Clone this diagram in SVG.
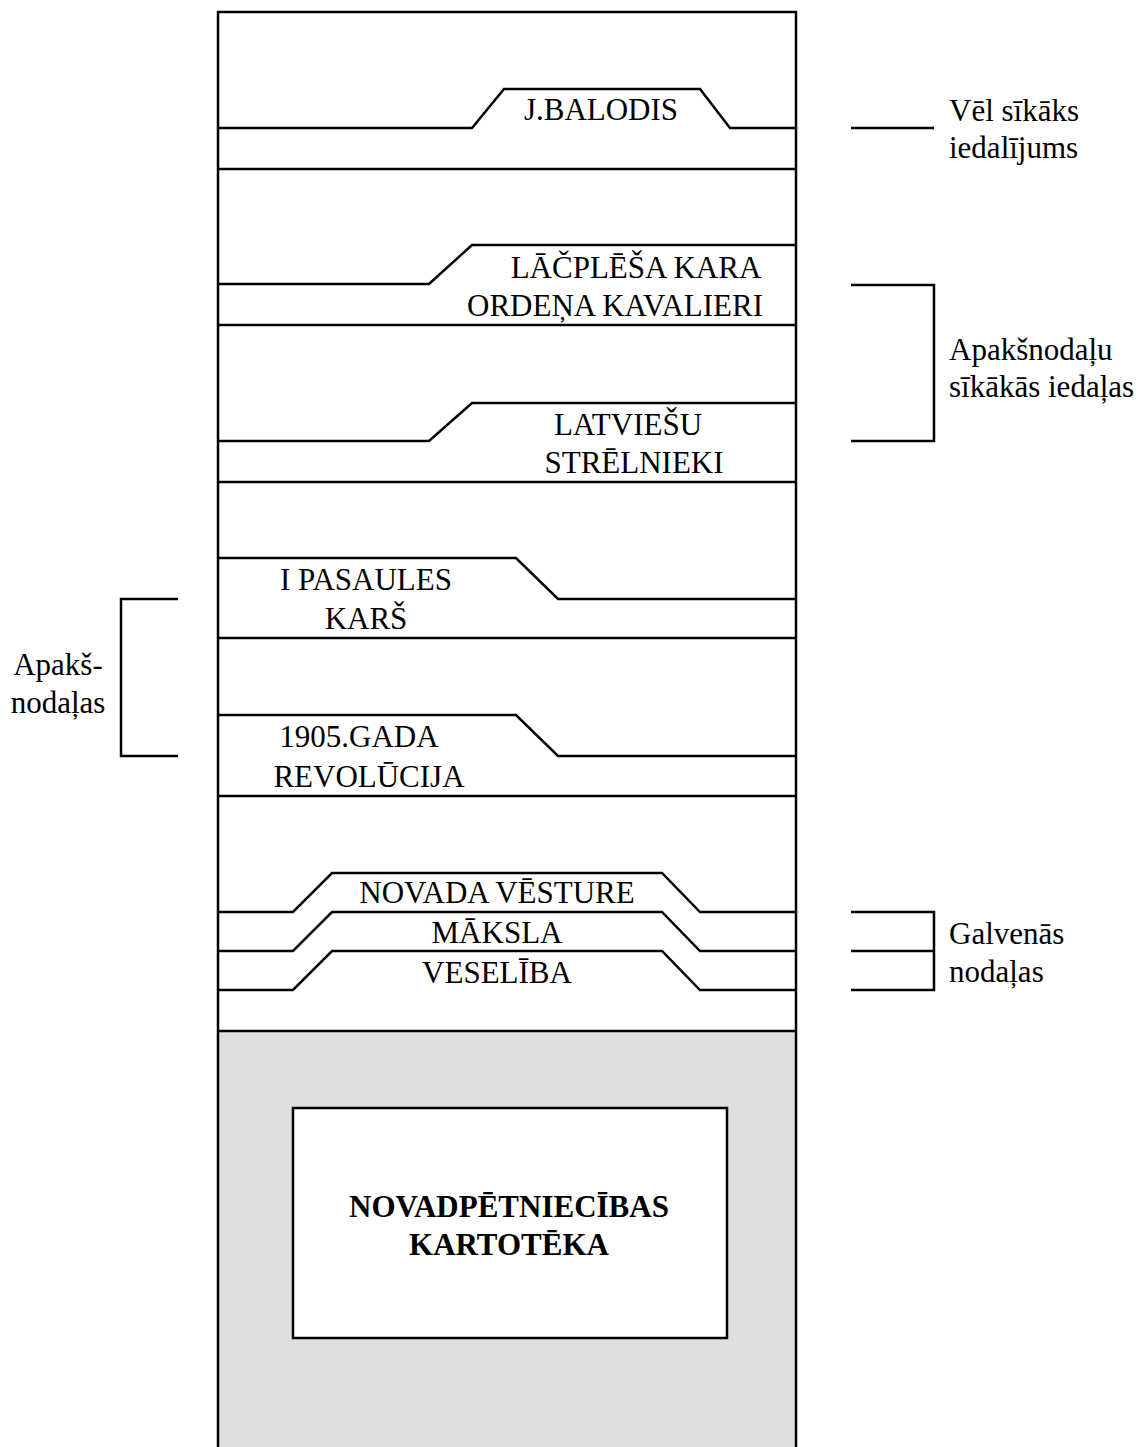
<svg xmlns="http://www.w3.org/2000/svg" width="1144" height="1447" viewBox="0 0 1144 1447">
<style>
.ln{fill:none;stroke:#000;stroke-width:2.5}
.t{font-family:"Liberation Serif","Times New Roman",serif;font-size:31px;fill:#000}
.c{text-anchor:middle}
.b{font-weight:bold}
</style>
<rect x="0" y="0" width="1144" height="1447" fill="#fff"/>
<g id="cabinet">
<rect x="218" y="12" width="578" height="1450" fill="#fff"/>
<rect x="218" y="1031" width="578" height="420" fill="#dedede"/>
<path class="ln" d="M218,1450 V12 H796 V1450"/>
</g>
<g id="connectors">
<path class="ln" d="M218,169 H796 M218,325 H796 M218,482 H796 M218,638 H796 M218,796 H796 M218,1031 H796"/>
<path class="ln" d="M851,128 H934"/>
<path class="ln" d="M851,285 H934 V441 H851"/>
<path class="ln" d="M851,912 H934 V990 H851 M851,951 H934"/>
<path class="ln" d="M178,599 H121 V756 H178"/>
</g>
<g id="tab-balodis">
<path class="ln" d="M218,128 H472 L504,89 H700 L730,128 H796"/>
<text class="t c" x="601" y="120">J.BALODIS</text>
</g>
<g id="tab-lacplesa">
<path class="ln" d="M218,284 H429 L472,245 H796"/>
<text class="t c" x="636" y="278">LĀČPLĒŠA KARA</text>
<text class="t c" x="615" y="316">ORDEŅA KAVALIERI</text>
</g>
<g id="tab-strelnieki">
<path class="ln" d="M218,441 H429 L472,403 H796"/>
<text class="t c" x="628" y="435">LATVIEŠU</text>
<text class="t c" x="634" y="473">STRĒLNIEKI</text>
</g>
<g id="tab-pasaules">
<path class="ln" d="M218,558 H516 L558,599 H796"/>
<text class="t c" x="366" y="590">I PASAULES</text>
<text class="t c" x="366" y="629">KARŠ</text>
</g>
<g id="tab-1905">
<path class="ln" d="M218,715 H516 L558,756 H796"/>
<text class="t c" x="359" y="747">1905.GADA</text>
<text class="t c" x="369" y="787">REVOLŪCIJA</text>
</g>
<g id="tab-novada">
<path class="ln" d="M218,912 H293 L332,873 H662 L700,912 H796"/>
<text class="t c" x="497" y="903">NOVADA VĒSTURE</text>
</g>
<g id="tab-maksla">
<path class="ln" d="M218,951 H293 L332,912 H662 L700,951 H796"/>
<text class="t c" x="497" y="943">MĀKSLA</text>
</g>
<g id="tab-veseliba">
<path class="ln" d="M218,990 H293 L332,951 H662 L700,990 H796"/>
<text class="t c" x="497" y="983">VESELĪBA</text>
</g>
<g id="label-box">
<rect x="293" y="1108" width="434" height="230" fill="#fff" stroke="#000" stroke-width="2.5"/>
<text class="t c b" x="509" y="1217">NOVADPĒTNIECĪBAS</text>
<text class="t c b" x="509" y="1255">KARTOTĒKA</text>
</g>
<g id="note-sikaks">
<text class="t" x="949" y="121">Vēl sīkāks</text>
<text class="t" x="949" y="158">iedalījums</text>
</g>
<g id="note-apaksnodalu">
<text class="t" x="949" y="360">Apakšnodaļu</text>
<text class="t" x="949" y="397">sīkākās iedaļas</text>
</g>
<g id="note-galvenas">
<text class="t" x="949" y="944">Galvenās</text>
<text class="t" x="949" y="982">nodaļas</text>
</g>
<g id="note-apaks">
<text class="t c" x="58" y="675">Apakš-</text>
<text class="t c" x="58" y="713">nodaļas</text>
</g>
</svg>
